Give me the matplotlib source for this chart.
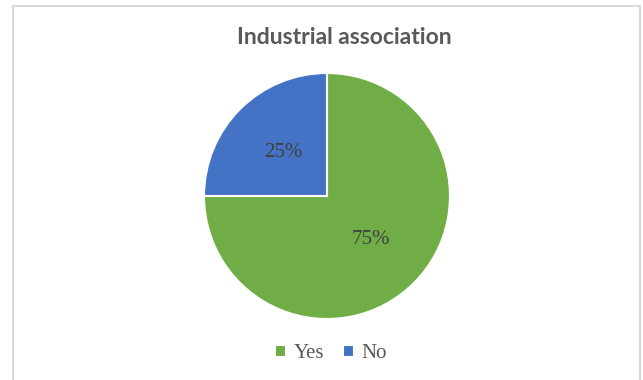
import matplotlib.pyplot as plt
from matplotlib.patches import Rectangle

labels = ["Yes", "No"]
shares = [75, 25]
colors = ["#70AD47", "#4472C4"]
title = "Industrial association"

W, H = 643, 380
fig = plt.figure(figsize=(W / 100, H / 100), dpi=100)

# light chart-area border, open at the bottom
frame = Rectangle((13 / W, -0.05), (640 - 13) / W, 1.05 - 6 / H,
                  transform=fig.transFigure, fill=False,
                  edgecolor="#d9d9d9", linewidth=1.5)
fig.patches.append(frame)

# pie centred at (327, 196) px with radius 123 px
cx, cy, r = 327, 196, 123
ax = fig.add_axes([(cx - r) / W, (H - cy - r) / H, 2 * r / W, 2 * r / H])
wedges, _, autotexts = ax.pie(
    shares, colors=colors, startangle=90, counterclock=False,
    autopct="%1.0f%%", pctdistance=0.5,
    wedgeprops=dict(edgecolor="white", linewidth=1.5),
    textprops=dict(family="Liberation Serif", fontsize=15, color="#404040"))
ax.set_xlim(-1, 1)
ax.set_ylim(-1, 1)
ax.set_aspect("equal")

fig.text(344 / W, 1 - 37 / H, title, ha="center", va="center",
         family="Lato", fontweight="bold", fontsize=16.5, color="#595959")

fig.legend(wedges, labels, loc="center", bbox_to_anchor=(331 / W, 1 - 354 / H),
           ncol=2, frameon=False, handlelength=0.55, handleheight=0.55,
           handletextpad=0.35, columnspacing=0.9,
           prop=dict(family="Liberation Serif", size=15), labelcolor="#595959")

fig.savefig("out.png", dpi=100)
